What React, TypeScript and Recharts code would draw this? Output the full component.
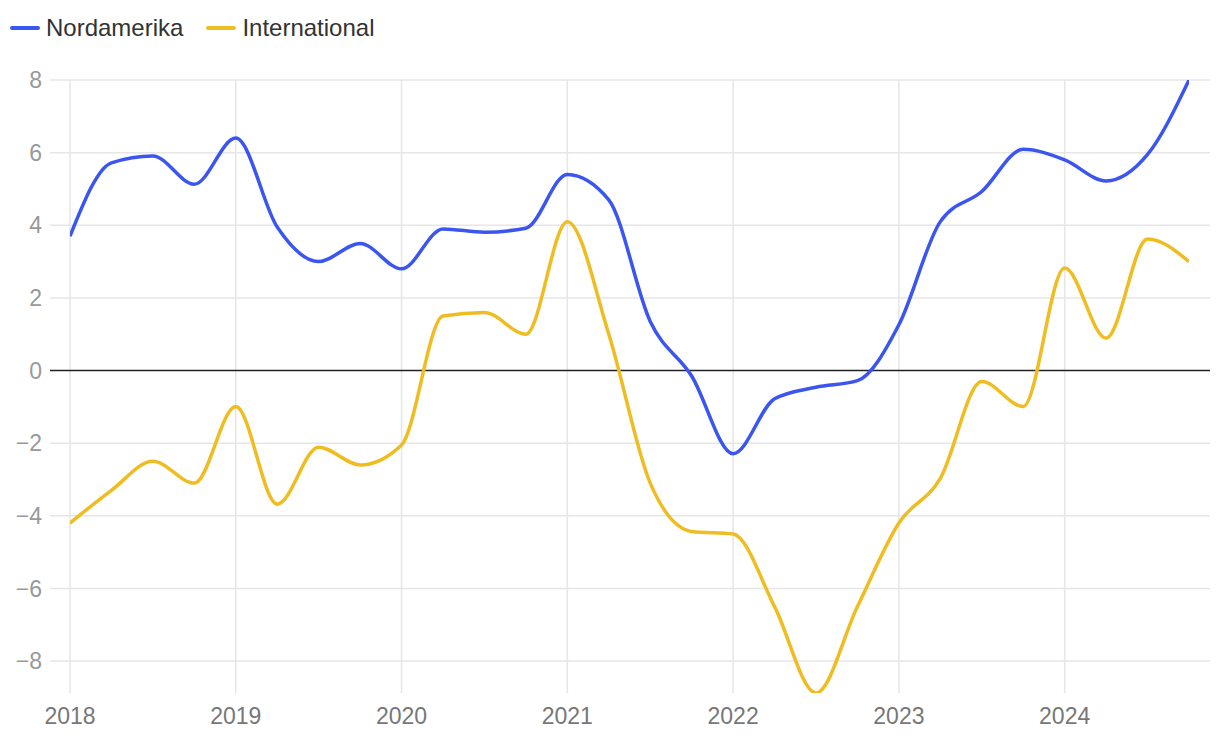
import React from 'react';
import { LineChart, Line, XAxis, YAxis, ReferenceLine } from 'recharts';

const periods = [
  2018, 2018.25, 2018.5, 2018.75,
  2019, 2019.25, 2019.5, 2019.75,
  2020, 2020.25, 2020.5, 2020.75,
  2021, 2021.25, 2021.5, 2021.75,
  2022, 2022.25, 2022.5, 2022.75,
  2023, 2023.25, 2023.5, 2023.75,
  2024, 2024.25, 2024.5, 2024.75,
];

const nordamerika = [
  3.7, 5.72, 5.91, 5.13,
  6.4, 3.95, 3.0, 3.5,
  2.8, 3.9, 3.81, 3.92,
  5.4, 4.7, 1.35, -0.15,
  -2.29, -0.78, -0.46, -0.28,
  1.26, 4.1, 4.93, 6.09,
  5.8, 5.22, 5.95, 8.0,
];

const international = [
  -4.2, -3.3, -2.5, -3.1,
  -0.99, -3.68, -2.11, -2.6,
  -2.05, 1.5, 1.6, 1.0,
  4.1, 1.0, -3.1, -4.43,
  -4.5, -6.5, -8.88, -6.5,
  -4.2, -2.97, -0.3, -0.99,
  2.82, 0.89, 3.62, 3.0,
];

const xTicks = [2018, 2019, 2020, 2021, 2022, 2023, 2024];
const yTicks = [-8, -6, -4, -2, 0, 2, 4, 6, 8];

const seriesNames = ['Nordamerika', 'International'];
const seriesColors = ['#3b55f0', '#efbd22'];

const data = periods.map((p, i) => ({
  x: p,
  nordamerika: nordamerika[i],
  international: international[i],
}));

const xMin = periods[0];
const xMax = periods[periods.length - 1];
const yMin = Math.min(...nordamerika, ...international);
const yMax = Math.max(...nordamerika, ...international);

const FONT = '"Liberation Sans", Arial, Helvetica, sans-serif';
const GRID = '#e6e6e6';

export default function App() {
  return (
    <div style={{ position: 'absolute', left: 0, top: 0, width: 1220, height: 740, fontFamily: FONT, background: '#fff' }}>
      <div style={{ position: 'absolute', left: 10, top: 14, display: 'flex', alignItems: 'center', zIndex: 2 }}>
        {seriesNames.map((name, i) => (
          <div key={name} style={{ display: 'flex', alignItems: 'center', marginRight: 23 }}>
            <div style={{ width: 30, height: 4, borderRadius: 2, background: seriesColors[i], marginRight: 6 }} />
            <span style={{ fontSize: 24, color: '#333', lineHeight: '28px' }}>{name}</span>
          </div>
        ))}
      </div>
      <LineChart
        width={1220}
        height={740}
        data={data}
        margin={{ top: 80, right: 10, bottom: 0, left: 0 }}
      >
        <XAxis
          dataKey="x"
          type="number"
          domain={[xMin, xMax]}
          allowDataOverflow={true}
          ticks={xTicks}
          padding={{ left: 20, right: 21 }}
          axisLine={false}
          tickLine={false}
          height={47}
          tickMargin={9}
          tick={{ fill: '#777', fontSize: 23, fontFamily: FONT }}
        />
        <YAxis
          type="number"
          domain={[yMin, yMax]}
          allowDataOverflow={true}
          ticks={yTicks}
          width={50}
          axisLine={false}
          tickLine={false}
          tick={{ fill: '#999', fontSize: 23, fontFamily: FONT }}
          tickFormatter={(v: number) => String(v).replace('-', '\u2212')}
        />
        {yTicks.filter((t) => t !== 0).map((t) => (
          <ReferenceLine key={'h' + t} y={t} stroke={GRID} strokeWidth={1.5} />
        ))}
        {xTicks.map((t) => (
          <ReferenceLine key={'v' + t} x={t} stroke={GRID} strokeWidth={1.5} />
        ))}
        <ReferenceLine y={0} stroke="#222" strokeWidth={1.5} />
        <Line
          type="monotone"
          dataKey="nordamerika"
          name={seriesNames[0]}
          stroke={seriesColors[0]}
          strokeWidth={3.5}
          dot={false}
          isAnimationActive={false}
        />
        <Line
          type="monotone"
          dataKey="international"
          name={seriesNames[1]}
          stroke={seriesColors[1]}
          strokeWidth={3.5}
          dot={false}
          isAnimationActive={false}
        />
      </LineChart>
    </div>
  );
}
